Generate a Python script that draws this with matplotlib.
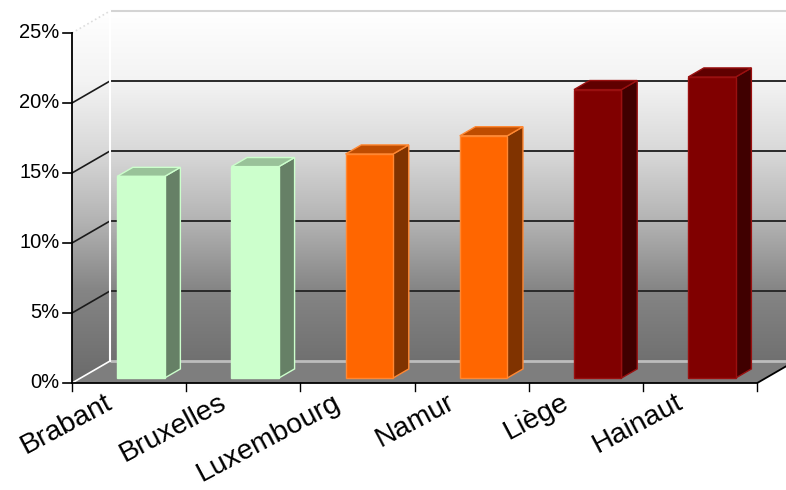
import numpy as np
import matplotlib
matplotlib.use("Agg")
import matplotlib.pyplot as plt
from matplotlib.patches import Polygon
from matplotlib.path import Path
from matplotlib.colors import LinearSegmentedColormap

plt.rcParams['font.family'] = ['Liberation Sans', 'DejaVu Sans']

# ---- data ----
categories = ["Brabant", "Bruxelles", "Luxembourg", "Namur", "Liège", "Hainaut"]
values = [14.4, 15.1, 16.0, 17.3, 20.6, 21.5]
face_colors = ["#CCFFCC", "#CCFFCC", "#FF6600", "#FF6600", "#800000", "#800000"]
top_colors = ["#99C299", "#99C299", "#BF4C00", "#BF4C00", "#600000", "#600000"]
side_colors = ["#668066", "#668066", "#803300", "#803300", "#400000", "#400000"]
edge_colors = ["#CCFFCC", "#CCFFCC", "#FF8833", "#FF8833", "#9A1010", "#9A1010"]
y_ticks = [0, 5, 10, 15, 20, 25]
y_tick_labels = ["0%", "5%", "10%", "15%", "20%", "25%"]

# ---- layout ----
W, H = 786, 490
fig = plt.figure(figsize=(W / 100, H / 100), dpi=100)
ax = fig.add_axes([0, 0, 1, 1])
ax.set_xlim(-1.1305, 5.752)
ax.set_ylim(-7.643, 27.357)
ax.axis('off')

DX, DY = 0.3327, 1.571   # oblique depth offset (category units, percent units)
YMAX = 25
n = len(categories)
XL, XR = -0.5, n - 0.5


def P(x, y, d):
    return (x + d * DX, y + d * DY)


# walls with gradient
back = [P(XL, 0, 1), P(XR, 0, 1), P(XR, YMAX, 1), P(XL, YMAX, 1)]
side = [P(XL, 0, 0), P(XL, 0, 1), P(XL, YMAX, 1), P(XL, YMAX, 0)]
floor = [P(XL, 0, 0), P(XR, 0, 0), P(XR, 0, 1), P(XL, 0, 1)]

cmap = LinearSegmentedColormap.from_list(
    "wall", [(0.0, "#6A6A6A"), (0.25, "#858585"), (0.43, "#B2B2B2"),
             (0.62, "#D8D8D8"), (0.81, "#F3F3F3"), (1.0, "#FFFFFF")])
grad = np.linspace(0, 1, 256).reshape(-1, 1)
ytop = YMAX + DY
im = ax.imshow(grad, cmap=cmap, origin='lower', aspect='auto',
               extent=(XL, XR + DX, 0, ytop), zorder=1, interpolation='bicubic')
verts = back + [back[0]] + side + [side[0]]
codes = ([Path.MOVETO] + [Path.LINETO] * 3 + [Path.CLOSEPOLY]) * 2
clip = Path(verts, codes)
im.set_clip_path(clip, transform=ax.transData)

ax.add_patch(Polygon(floor, closed=True, facecolor="#7E7E7E", edgecolor='none', zorder=2))

# gridlines
for t in y_ticks:
    if t == 0:
        col, lw = "#BDBDBD", 2.0
        scol = "#FFFFFF"
    elif t == YMAX:
        col, lw = "#D4D4D4", 1.5
        scol = "#DDDDDD"
    else:
        col, lw = "#2A2A2A", 1.4
        scol = "#1A1A1A"
    ax.plot([P(XL, t, 1)[0], P(XR, t, 1)[0]], [P(XL, t, 1)[1]] * 2, color=col, lw=lw, zorder=3,
            solid_capstyle='butt')
    ls = ':' if t == YMAX else '-'
    ax.plot([P(XL, t, 0)[0], P(XL, t, 1)[0]], [P(XL, t, 0)[1], P(XL, t, 1)[1]],
            color=scol, lw=1.2, ls=ls, zorder=3)

# back wall left edge (white)
ax.plot([P(XL, 0, 1)[0], P(XL, YMAX, 1)[0]], [P(XL, 0, 1)[1], P(XL, YMAX, 1)[1]],
        color="white", lw=1.5, zorder=3)

# floor front & right edges
ax.plot([P(XL, 0, 0)[0], P(XR, 0, 0)[0], P(XR, 0, 1)[0]],
        [P(XL, 0, 0)[1], P(XR, 0, 0)[1], P(XR, 0, 1)[1]], color="black", lw=1.3, zorder=6)

# front value axis
ax.plot([XL, XL], [0, YMAX], color="black", lw=1.3, zorder=6)
tick_len = 0.08
for t, lab in zip(y_ticks, y_tick_labels):
    ax.plot([XL - tick_len, XL], [t, t], color="black", lw=1.2, zorder=6)
    ax.text(XL - 0.11, t, lab, ha='right', va='center', fontsize=14.5, color='black')

# category ticks
for k in range(n + 1):
    x = XL + k
    ax.plot([x, x], [0, -0.55], color="black", lw=1.0, zorder=6)

# bars
d0, d1 = 0.227, 0.64
bw = 0.416
for i, (v, fc, tc, sc, ec) in enumerate(zip(values, face_colors, top_colors, side_colors, edge_colors)):
    x3 = i - 0.18
    front = [P(x3, 0, d0), P(x3 + bw, 0, d0), P(x3 + bw, v, d0), P(x3, v, d0)]
    sidef = [P(x3 + bw, 0, d0), P(x3 + bw, 0, d1), P(x3 + bw, v, d1), P(x3 + bw, v, d0)]
    topf = [P(x3, v, d0), P(x3 + bw, v, d0), P(x3 + bw, v, d1), P(x3, v, d1)]
    ax.add_patch(Polygon(sidef, closed=True, facecolor=sc, edgecolor=ec, lw=1.0, zorder=4))
    ax.add_patch(Polygon(topf, closed=True, facecolor=tc, edgecolor=ec, lw=1.0, zorder=4))
    ax.add_patch(Polygon(front, closed=True, facecolor=fc, edgecolor=ec, lw=1.0, zorder=5))

# category labels
for i, lab in enumerate(categories):
    ax.text(i - 0.22, -0.45, lab, rotation=28, rotation_mode='anchor',
            ha='right', va='top', fontsize=20.5, color='black')

fig.savefig("out.png", dpi=100, facecolor='white')
